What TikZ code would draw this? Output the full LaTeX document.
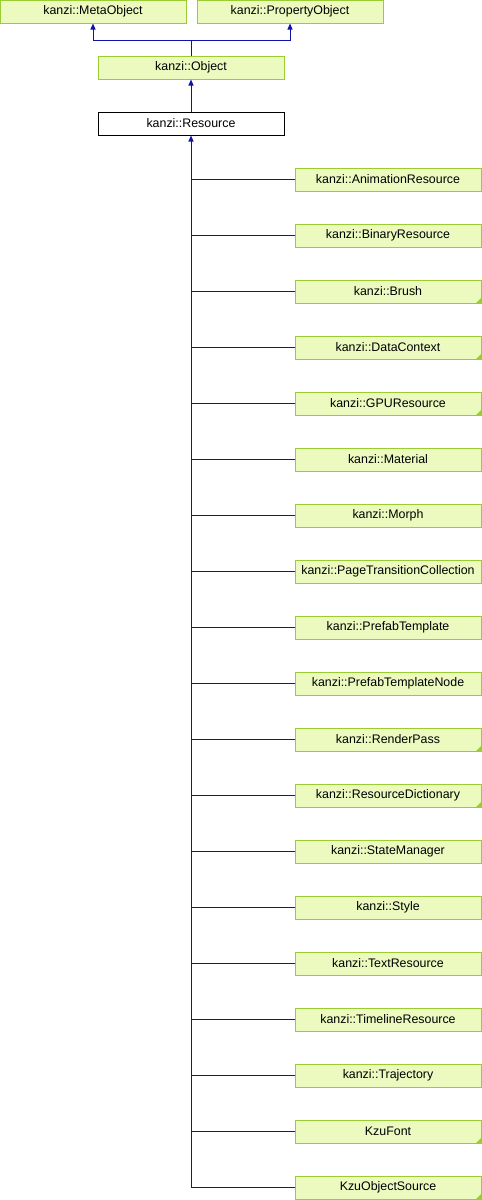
\documentclass[tikz,border=0pt]{standalone}
\usepackage{fontspec}
\setmainfont{Liberation Sans}
\usetikzlibrary{arrows.meta}
\definecolor{boxfill}{RGB}{236,250,192}
\definecolor{boxline}{RGB}{154,205,50}
\definecolor{edgecol}{RGB}{16,16,170}
\tikzset{
  cls/.style={draw=boxline, fill=boxfill, line width=1pt, minimum width=186pt, minimum height=23pt, inner sep=0pt, font=\fontsize{12.4}{14}\selectfont},
  curcls/.style={cls, draw=black, fill=white},
  edge/.style={draw=edgecol, line width=1pt},
  arr/.style={edge, -{Triangle[length=6pt,width=5pt]}},
  corner/.style={fill=boxline, draw=none}
}
\newcommand{\cornermark}[1]{\fill[corner] ([xshift=-0.5pt,yshift=0.5pt]#1.south east) -- ++(-5pt,0) -- ++(5pt,5pt) -- cycle;}
\begin{document}
\begin{tikzpicture}[x=1pt,y=-1pt]
\useasboundingbox (0,0) rectangle (482,1200);
\node[cls] (meta) at (93,11.5) {kanzi::MetaObject};
\node[cls] (prop) at (290,11.5) {kanzi::PropertyObject};
\node[cls] (obj) at (191,67.5) {kanzi::Object};
\node[curcls] (res) at (191,123.5) {kanzi::Resource};
\coordinate (j) at (191,40);
\draw[edge] (obj.north) -- (j);
\draw[arr] (j) -| (meta.south);
\draw[arr] (j) -| (prop.south);
\draw[arr] (res.north) -- (obj.south);
\foreach \n/\t [count=\i from 0] in {
  c0/kanzi::AnimationResource,
  c1/kanzi::BinaryResource,
  c2/kanzi::Brush,
  c3/kanzi::DataContext,
  c4/kanzi::GPUResource,
  c5/kanzi::Material,
  c6/kanzi::Morph,
  c7/kanzi::PageTransitionCollection,
  c8/kanzi::PrefabTemplate,
  c9/kanzi::PrefabTemplateNode,
  c10/kanzi::RenderPass,
  c11/kanzi::ResourceDictionary,
  c12/kanzi::StateManager,
  c13/kanzi::Style,
  c14/kanzi::TextResource,
  c15/kanzi::TimelineResource,
  c16/kanzi::Trajectory,
  c17/KzuFont,
  c18/KzuObjectSource} {
  \node[cls] (\n) at (388,179.5+56*\i) {\t};
  \draw[edge] (\n.west) -- (\n.west -| res.south);
}
\foreach \n in {c2,c3,c4,c10,c11,c17,c18} {\cornermark{\n}}
\coordinate (trunk) at (c18.west -| res.south);
\draw[arr] (trunk) -- (res.south);
\end{tikzpicture}
\end{document}
